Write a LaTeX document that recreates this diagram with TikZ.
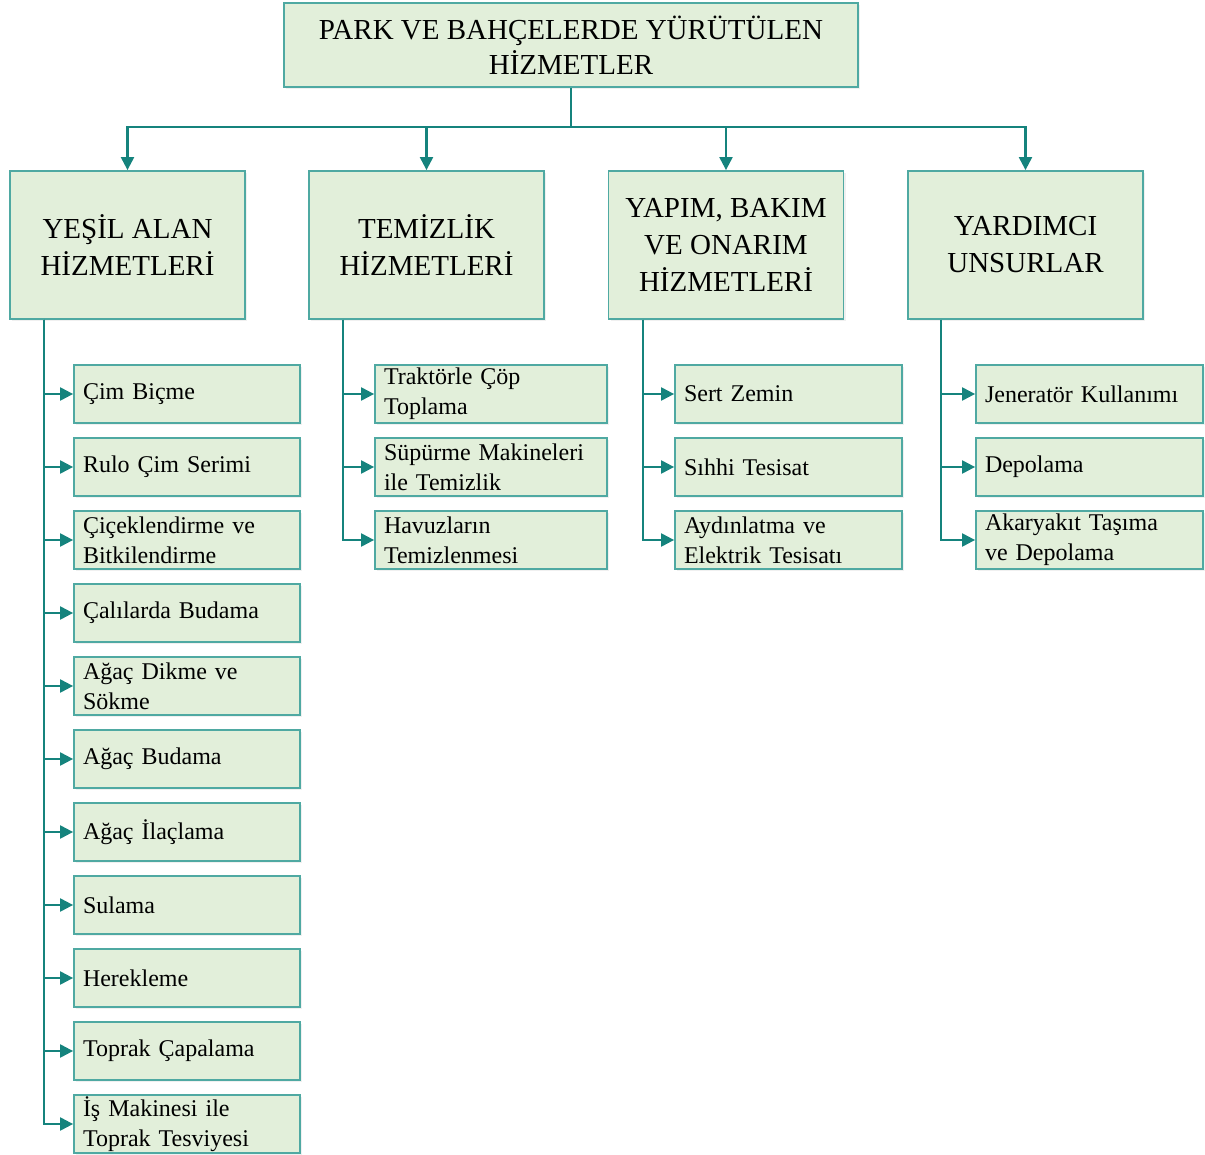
\documentclass[tikz,border=0pt]{standalone}
\usepackage{fontspec}
\setmainfont{Liberation Serif}
\usetikzlibrary{arrows.meta,shadows}
\definecolor{boxfill}{HTML}{E2EFDA}
\definecolor{boxline}{HTML}{4FA9A2}
\definecolor{conn}{HTML}{15837D}
\tikzset{
  basebox/.style={draw=boxline, line width=1.8pt, fill=boxfill,
    drop shadow={opacity=0.12, shadow xshift=2pt, shadow yshift=-2pt}},
  topbox/.style={basebox, minimum width=574pt, minimum height=84pt,
    align=center, font=\fontsize{29}{35}\selectfont, inner sep=0pt},
  catbox/.style={basebox, minimum width=235pt, minimum height=148pt,
    align=center, font=\fontsize{29}{37}\selectfont, inner sep=0pt},
  leafbox/.style={basebox, minimum height=58pt, inner xsep=9pt, inner ysep=0pt,
    text width=#1-18pt, minimum width=#1, align=left,
    font=\fontsize{24}{30}\selectfont},
  conline/.style={draw=conn, line width=2.2pt},
  arr/.style={conline, -{Triangle[length=13pt,width=13pt]}},
}
\begin{document}
\begin{tikzpicture}[x=1pt,y=-1pt]
\useasboundingbox (0,0) rectangle (1205,1155);
\node[topbox] (top) at (571,45) {PARK VE BAHÇELERDE YÜRÜTÜLEN\\HİZMETLER};
\node[catbox] (c1) at (127.5,245) {YEŞİL ALAN\\HİZMETLERİ};
\node[catbox] (c2) at (426.5,245) {TEMİZLİK\\HİZMETLERİ};
\node[catbox] (c3) at (726,245) {YAPIM, BAKIM\\VE ONARIM\\HİZMETLERİ};
\node[catbox] (c4) at (1025.5,245) {YARDIMCI\\UNSURLAR};
\coordinate (hub) at (571,127);
\draw[conline] (top.south) -- (hub);
\foreach \c in {c1,c2,c3,c4}{
  \draw[arr] (hub) -| (\c.north);
}
% column 1
\node[leafbox=226pt] (a1) at (187,394) {Çim Biçme};
\node[leafbox=226pt] (a2) at (187,467) {Rulo Çim Serimi};
\node[leafbox=226pt] (a3) at (187,540) {Çiçeklendirme ve\\Bitkilendirme};
\node[leafbox=226pt] (a4) at (187,613) {Çalılarda Budama};
\node[leafbox=226pt] (a5) at (187,686) {Ağaç Dikme ve\\Sökme};
\node[leafbox=226pt] (a6) at (187,759) {Ağaç Budama};
\node[leafbox=226pt] (a7) at (187,832) {Ağaç İlaçlama};
\node[leafbox=226pt] (a8) at (187,905) {Sulama};
\node[leafbox=226pt] (a9) at (187,978) {Herekleme};
\node[leafbox=226pt] (a10) at (187,1051) {Toprak Çapalama};
\node[leafbox=226pt] (a11) at (187,1124) {İş Makinesi ile\\Toprak Tesviyesi};
% column 2
\node[leafbox=232pt] (b1) at (491,394) {Traktörle Çöp\\Toplama};
\node[leafbox=232pt] (b2) at (491,467) {Süpürme Makineleri\\ile Temizlik};
\node[leafbox=232pt] (b3) at (491,540) {Havuzların\\Temizlenmesi};
% column 3
\node[leafbox=227pt] (d1) at (788.5,394) {Sert Zemin};
\node[leafbox=227pt] (d2) at (788.5,467) {Sıhhi Tesisat};
\node[leafbox=227pt] (d3) at (788.5,540) {Aydınlatma ve\\Elektrik Tesisatı};
% column 4
\node[leafbox=227pt] (e1) at (1089.5,394) {Jeneratör Kullanımı};
\node[leafbox=227pt] (e2) at (1089.5,467) {Depolama};
\node[leafbox=227pt] (e3) at (1089.5,540) {Akaryakıt Taşıma\\ve Depolama};
% connectors
\foreach \n in {a1,a2,a3,a4,a5,a6,a7,a8,a9,a10,a11}{
  \draw[arr] (c1.south west) ++(35,0) |- (\n.west);
}
\foreach \n in {b1,b2,b3}{
  \draw[arr] (c2.south west) ++(35,0) |- (\n.west);
}
\foreach \n in {d1,d2,d3}{
  \draw[arr] (c3.south west) ++(35,0) |- (\n.west);
}
\foreach \n in {e1,e2,e3}{
  \draw[arr] (c4.south west) ++(34,0) |- (\n.west);
}
\end{tikzpicture}
\end{document}
